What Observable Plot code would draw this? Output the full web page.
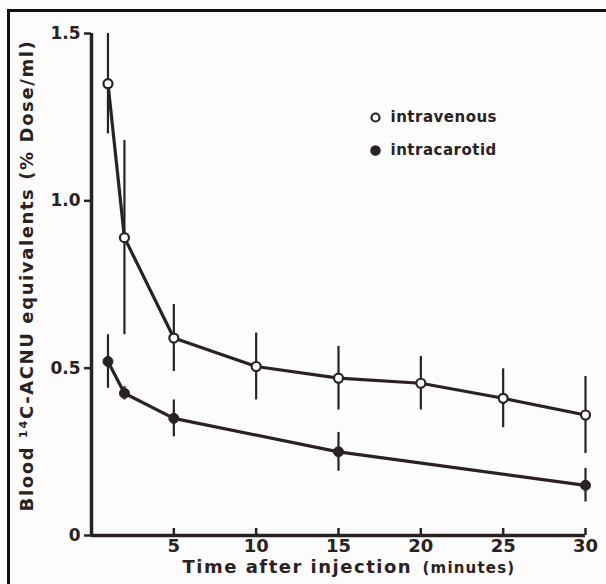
<!DOCTYPE html>
<html>
<head>
<meta charset="utf-8">
<script src="https://cdn.jsdelivr.net/npm/d3@7"></script>
<script src="https://cdn.jsdelivr.net/npm/@observablehq/plot@0.6"></script>
<style>
  html, body { margin: 0; padding: 0; background: #fcfcfd; }
  #wrap { position: relative; width: 606px; height: 584px; overflow: hidden; }
  #border { position: absolute; left: 7px; top: 9px; width: 620px; height: 600px;
            border-top: 3px solid #111; border-left: 3px solid #111; pointer-events: none; }
</style>
</head>
<body>
<div id="wrap"><div id="border"></div></div>
<script>
// ---- data ----
const seriesNames = ["intravenous", "intracarotid"];
const ivTime = [1, 2, 5, 10, 15, 20, 25, 30];
const ivMean = [1.35, 0.89, 0.59, 0.505, 0.47, 0.455, 0.41, 0.36];
const ivErr  = [0.15, 0.29, 0.10, 0.10, 0.095, 0.08, 0.088, 0.115];
const icTime = [1, 2, 5, 15, 30];
const icMean = [0.52, 0.425, 0.35, 0.25, 0.15];
const icErr  = [0.08, 0.02, 0.055, 0.058, 0.05];
const xTicks = [5, 10, 15, 20, 25, 30];
const yTicks = [0, 0.5, 1.0, 1.5];
const yTickLabels = ["0", "0.5", "1.0", "1.5"];
const xLabel = "Time after injection";
const xUnit = "(minutes)";
const yLabel = "Blood \u00B9\u2074C-ACNU equivalents (% Dose/ml)";

const iv = ivTime.map((t, i) => ({t, m: ivMean[i], e: ivErr[i]}));
const ic = icTime.map((t, i) => ({t, m: icMean[i], e: icErr[i]}));

const ink = "#2a2222";
const font = "'DejaVu Sans', sans-serif";

const chart = Plot.plot({
  width: 606, height: 584,
  marginLeft: 91, marginRight: 21, marginTop: 33, marginBottom: 49,
  x: {domain: [0, 30]},
  y: {domain: [0, 1.5]},
  style: {fontFamily: font, background: "transparent", color: ink, overflow: "visible"},
  marks: [
    Plot.axisY(yTicks, {tickSize: 7, tickPadding: 4, strokeWidth: 2.5,
      tickFormat: d => yTickLabels[yTicks.indexOf(d)], fontSize: 17, fontWeight: "bold", label: null}),
    Plot.axisX(xTicks, {tickSize: 7, dy: -7, strokeWidth: 2.5, tickFormat: () => "", label: null}),
    Plot.axisX(xTicks, {tickSize: 0, tickPadding: 4, fontSize: 18, fontWeight: 600, label: null}),
    Plot.ruleY([0], {stroke: ink, strokeWidth: 3.5}),
    Plot.ruleX([0], {stroke: ink, strokeWidth: 3.5}),
    // error bars
    Plot.ruleX(iv, {x: "t", y1: d => d.m - d.e, y2: d => d.m + d.e, stroke: ink, strokeWidth: 2.2}),
    Plot.ruleX(ic, {x: "t", y1: d => d.m - d.e, y2: d => d.m + d.e, stroke: ink, strokeWidth: 2.2}),
    // lines
    Plot.line(iv, {x: "t", y: "m", stroke: ink, strokeWidth: 3.2}),
    Plot.line(ic, {x: "t", y: "m", stroke: ink, strokeWidth: 3.2}),
    // points
    Plot.dot(iv, {x: "t", y: "m", r: 4.5, fill: "white", stroke: ink, strokeWidth: 2.2}),
    Plot.dot(ic, {x: "t", y: "m", r: 5, fill: ink, stroke: ink, strokeWidth: 1}),
    // legend
    Plot.dot([seriesNames[0]], {frameAnchor: "top-left", dx: 284, dy: 84, r: 4, fill: "white", stroke: ink, strokeWidth: 2.2}),
    Plot.dot([seriesNames[1]], {frameAnchor: "top-left", dx: 284, dy: 117, r: 4.5, fill: ink, stroke: ink}),
    Plot.text([seriesNames[0]], {frameAnchor: "top-left", dx: 299, dy: 84, text: d => d, textAnchor: "start",
      lineAnchor: "middle", fontSize: 15, fontWeight: "bold", fill: ink}),
    Plot.text([seriesNames[1]], {frameAnchor: "top-left", dx: 299, dy: 117, text: d => d, textAnchor: "start",
      lineAnchor: "middle", fontSize: 15, fontWeight: "bold", fill: ink}),
    // axis titles
    Plot.text([yLabel], {frameAnchor: "left", dx: -64, dy: -9, rotate: -90, text: d => d, textAnchor: "middle",
      lineAnchor: "middle", fontSize: 18, fontWeight: "bold", fill: ink}),
    Plot.text([xLabel], {frameAnchor: "bottom-left", dx: 91, dy: 32, text: d => d, textAnchor: "start",
      lineAnchor: "middle", fontSize: 18, fontWeight: 600, fill: ink}),
    Plot.text([xUnit], {frameAnchor: "bottom-left", dx: 331, dy: 33, text: d => d, textAnchor: "start",
      lineAnchor: "middle", fontSize: 15, fontWeight: 600, fill: ink})
  ]
});
chart.style.position = "absolute";
chart.style.left = "0px";
chart.style.top = "0px";
// letter spacing for the wide, rounded lettering of the original
chart.querySelectorAll("text").forEach(t => {
  const s = t.textContent;
  if (s === yLabel) t.setAttribute("letter-spacing", "1.6");
  else if (s === xLabel) t.setAttribute("letter-spacing", "1.5");
  else if (s === xUnit) t.setAttribute("letter-spacing", "1.2");
  else if (seriesNames.includes(s)) t.setAttribute("letter-spacing", "0.5");
});
document.getElementById("wrap").prepend(chart);
</script>
</body>
</html>
